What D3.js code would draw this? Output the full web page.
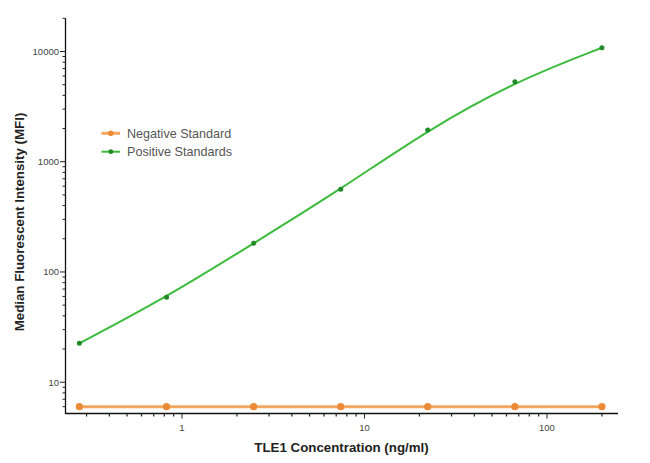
<!DOCTYPE html>
<html><head><meta charset="utf-8">
<script src="https://cdn.jsdelivr.net/npm/d3@7"></script>
<style>
html,body{margin:0;padding:0;background:#fff;}
svg{display:block;font-family:"Liberation Sans",Arial,sans-serif;}
</style></head>
<body>
<svg id="chart" width="650" height="463"></svg>
<script>
const concentrations = [0.274, 0.823, 2.47, 7.41, 22.2, 66.7, 200];
const positiveMFI = [22.5, 59, 182, 562, 1940, 5320, 10820];
const negativeMFI = [6, 6, 6, 6, 6, 6, 6];
const seriesNames = ["Negative Standard", "Positive Standards"];
const xTickValues = [1, 10, 100];
const yTickValues = [10, 100, 1000, 10000];
const xTitle = "TLE1 Concentration (ng/ml)";
const yTitle = "Median Fluorescent Intensity (MFI)";

const svg = d3.select("#chart");
const x = d3.scaleLog().domain([0.23, 245]).range([65.5, 618]);
const y = d3.scaleLog().domain([5.2, 20000]).range([413.5, 18.3]);

const fmt = d => String(d);

// Y axis
const yAxis = svg.append("g").attr("transform", "translate(65.5,0)");
yAxis.append("line").attr("x1",0).attr("x2",0).attr("y1",y.range()[1]).attr("y2",y.range()[0]+0.5)
  .attr("stroke","#111").attr("stroke-width",1.3);
const yMinor = y.ticks().filter(t => !yTickValues.includes(t));
yAxis.selectAll(".ymin").data(yMinor).join("line")
  .attr("x1",-3).attr("x2",0).attr("y1",d=>y(d)).attr("y2",d=>y(d))
  .attr("stroke","#222").attr("stroke-width",1);
yAxis.selectAll(".ymaj").data(yTickValues).join("line")
  .attr("x1",-5.5).attr("x2",0).attr("y1",d=>y(d)).attr("y2",d=>y(d))
  .attr("stroke","#222").attr("stroke-width",1);
yAxis.selectAll(".ylab").data(yTickValues).join("text")
  .attr("x",-6.5).attr("y",d=>y(d)).attr("dy","0.35em")
  .attr("text-anchor","end").attr("font-size",9.5).attr("fill","#444")
  .text(fmt);

// X axis
const xAxis = svg.append("g").attr("transform", "translate(0,413.5)");
xAxis.append("line").attr("x1",x.range()[0]).attr("x2",x.range()[1]).attr("y1",0).attr("y2",0)
  .attr("stroke","#111").attr("stroke-width",1.3);
const xMinor = x.ticks().filter(t => !xTickValues.includes(t));
xAxis.selectAll(".xmin").data(xMinor).join("line")
  .attr("x1",d=>x(d)).attr("x2",d=>x(d)).attr("y1",0).attr("y2",3)
  .attr("stroke","#222").attr("stroke-width",1.2);
xAxis.selectAll(".xmaj").data(xTickValues).join("line")
  .attr("x1",d=>x(d)).attr("x2",d=>x(d)).attr("y1",0).attr("y2",5)
  .attr("stroke","#222").attr("stroke-width",1);
xAxis.selectAll(".xlab").data(xTickValues).join("text")
  .attr("x",d=>x(d)).attr("y",17)
  .attr("text-anchor","middle").attr("font-size",9.5).attr("fill","#444")
  .text(fmt);

// Titles
svg.append("text").attr("x",341.5).attr("y",452).attr("text-anchor","middle")
  .attr("font-size",13.3).attr("font-weight","bold").attr("fill","#222").text(xTitle);
svg.append("text").attr("transform","translate(24,222) rotate(-90)").attr("text-anchor","middle")
  .attr("font-size",13.3).attr("font-weight","bold").attr("fill","#222").text(yTitle);

// Series
const negLine = d3.line().curve(d3.curveLinear);
const posLine = d3.line().curve(d3.curveBasis);
const negPts = concentrations.map((c,i)=>[x(c), y(negativeMFI[i])]);
const posPts = concentrations.map((c,i)=>[x(c), y(positiveMFI[i])]);

svg.append("path").attr("d", negLine(negPts)).attr("fill","none")
  .attr("stroke","#f3a660").attr("stroke-width",3);
svg.selectAll(".negpt").data(negPts).join("circle")
  .attr("cx",d=>d[0]).attr("cy",d=>d[1]).attr("r",3.6).attr("fill","#ec8a35");

svg.append("path").attr("d", posLine(posPts)).attr("fill","none")
  .attr("stroke","#3dbb3d").attr("stroke-width",2);
svg.selectAll(".pospt").data(posPts).join("circle")
  .attr("cx",d=>d[0]).attr("cy",d=>d[1]).attr("r",2.5).attr("fill","#1f8a26");

// Legend
const legend = svg.append("g");
const legendItems = [
  {name: seriesNames[0], line: "#f3a660", dot: "#ec8a35", y: 133.3, w: 3, r: 2.8},
  {name: seriesNames[1], line: "#3dbb3d", dot: "#1f8a26", y: 151.7, w: 2, r: 2.4}
];
legendItems.forEach(it => {
  legend.append("line").attr("x1",101.5).attr("x2",120).attr("y1",it.y).attr("y2",it.y)
    .attr("stroke",it.line).attr("stroke-width",it.w);
  legend.append("circle").attr("cx",110.8).attr("cy",it.y).attr("r",it.r).attr("fill",it.dot);
  legend.append("text").attr("x",127).attr("y",it.y).attr("dy","0.36em")
    .attr("font-size",12.6).attr("fill","#555").text(it.name);
});
</script>
</body></html>
